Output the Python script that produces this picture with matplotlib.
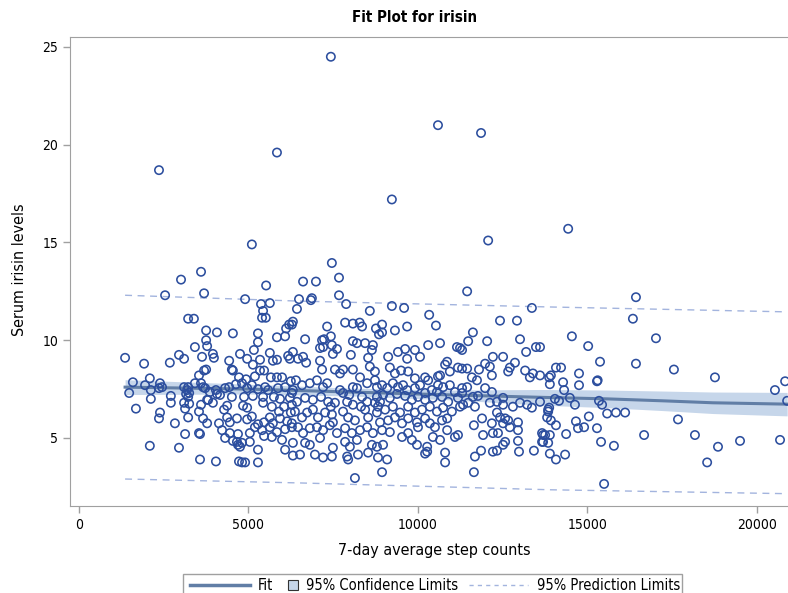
import numpy as np
import matplotlib.pyplot as plt
from matplotlib.lines import Line2D
from matplotlib.patches import Rectangle

plt.rcParams['font.family'] = ['DejaVu Sans']
plt.rcParams['font.stretch'] = 'condensed'

# (steps, irisin), grouped by region
high_pts = np.array([
    (2360, 18.7), (5840, 19.6), (9230, 17.2), (5100, 14.9), (3010, 13.1),
    (3600, 13.5), (2540, 12.3), (3690, 12.4), (4900, 12.1), (5520, 12.8),
    (5370, 11.85), (5630, 11.9), (6490, 12.1), (6840, 12.05), (6870, 12.15),
    (6610, 13.0), (6990, 13.0), (7460, 13.95), (7670, 13.2), (7670, 12.3),
    (7880, 11.85), (9230, 11.75), (9590, 11.65), (6430, 11.6), (8580, 11.5),
    (11860, 20.6), (14430, 15.7), (12070, 15.1), (11450, 12.5), (16430, 12.2),
    (13360, 11.65), (10590, 21.0), (7430, 24.5),
])

right_pts = np.array([
    (16340, 11.1), (14540, 10.2), (15020, 9.7), (17020, 10.1), (15370, 8.9),
    (16430, 8.8), (17550, 8.5), (18760, 8.1), (20830, 7.9), (20530, 7.45),
    (20890, 6.9), (13600, 9.65), (14070, 8.6), (14220, 8.6), (13920, 8.2),
    (14750, 8.3), (14280, 7.85), (13890, 7.75), (14750, 7.7), (15280, 7.9),
    (15300, 7.95), (14310, 7.45), (14040, 7.0), (14160, 6.9), (14480, 7.05),
    (15340, 6.9), (14630, 6.7), (15430, 6.7), (13870, 6.55), (13840, 6.35),
    (15580, 6.25), (15840, 6.3), (16110, 6.3), (15040, 6.1), (13920, 5.9),
    (14660, 5.85), (14070, 5.65), (14720, 5.5), (14900, 5.55), (15280, 5.5),
    (17670, 5.95), (14370, 5.2), (13690, 5.15), (13890, 5.15), (16670, 5.15),
    (18170, 5.15), (13690, 4.8), (15400, 4.8), (15780, 4.6), (19500, 4.85),
    (20680, 4.9), (18850, 4.55), (13890, 4.2), (14340, 4.15), (14070, 3.9),
    (18530, 3.75), (15490, 2.65),
])

left_pts = np.array([
    (3220, 11.1), (3390, 11.1), (3750, 10.5), (3750, 10.0), (3780, 9.7),
    (3420, 9.65), (1360, 9.1), (1920, 8.8), (2680, 8.85), (2950, 9.25),
    (3100, 9.05), (3630, 9.15), (3540, 8.2), (3690, 8.45), (3750, 8.5),
    (1590, 7.85), (2090, 8.05), (1950, 7.7), (2390, 7.8), (2450, 7.6),
    (1480, 7.3), (2120, 7.45), (2360, 7.55), (3100, 7.6), (3190, 7.45),
    (3220, 7.6), (3160, 7.25), (3250, 7.3), (3420, 7.8), (3600, 7.8),
    (3660, 7.6), (2120, 7.0), (2710, 7.15), (2710, 6.8), (3100, 6.8),
    (3250, 6.75), (3130, 6.5), (3600, 6.7), (3780, 6.95), (1680, 6.5),
    (2390, 6.3), (2360, 6.0), (3220, 6.05), (3540, 6.35), (3660, 6.0),
    (2830, 5.75), (3780, 5.75), (3130, 5.2), (3540, 5.25), (3570, 5.2),
    (2090, 4.6), (2950, 4.5), (3570, 3.9), (3220, 7.1), (3950, 6.8),
    (4040, 7.45),
])

midleft_pts = np.array([
    (5430, 11.5), (5400, 11.15), (5510, 11.15), (4070, 10.4), (4540, 10.35),
    (5280, 10.35), (5280, 9.9), (5160, 9.5), (3950, 9.3), (3980, 9.1),
    (5840, 10.15), (6110, 10.6), (6080, 10.2), (6200, 10.8), (6310, 10.95),
    (4430, 8.95), (4750, 9.3), (4960, 9.05), (5130, 8.75), (5340, 9.0),
    (5630, 9.35), (5720, 8.95), (5840, 9.0), (6170, 9.2), (6220, 9.05),
    (4540, 8.45), (4720, 8.1), (4930, 8.0), (5190, 8.15), (5340, 8.45),
    (5460, 8.45), (5660, 8.1), (5840, 8.1), (5990, 8.1), (6250, 7.9),
    (3720, 7.55), (3860, 7.35), (4070, 7.25), (4310, 7.55), (4430, 7.6),
    (4630, 7.75), (4810, 7.8), (4960, 7.55), (5100, 7.7), (5280, 7.5),
    (5490, 7.6), (5580, 7.45), (5870, 7.55), (6080, 7.6), (6310, 7.45),
    (3810, 6.95), (4160, 7.2), (4510, 7.1), (4870, 7.1), (5130, 7.15),
    (5430, 7.1), (5750, 7.1), (5930, 7.0), (6220, 7.05), (4510, 8.5),
    (4370, 6.65), (4280, 6.45), (4840, 6.65), (4960, 6.55), (5430, 6.8),
    (5690, 6.6), (5900, 6.35), (6050, 6.6), (6280, 6.7), (4750, 4.55),
    (4370, 6.05), (4130, 5.75), (4450, 5.8), (4660, 6.0), (4960, 5.95),
    (5100, 6.1), (5280, 5.7), (5460, 5.8), (5630, 6.05), (5720, 5.75),
    (5930, 6.0), (6140, 5.85), (6250, 6.3), (4540, 4.85),
    (4220, 5.4), (4450, 5.25), (4690, 5.2), (5040, 5.25), (5190, 5.55),
    (5400, 5.4), (5630, 5.55), (5840, 5.3), (6080, 5.45), (6280, 5.55),
    (4310, 5.0), (4660, 4.8), (4690, 4.65), (4810, 4.75), (5040, 4.8),
    (5280, 4.4), (5460, 5.1), (5690, 5.05), (5990, 4.9), (6080, 4.4),
    (6310, 4.75), (4040, 3.8), (4720, 3.8), (4810, 3.75), (4900, 3.75),
    (5280, 3.75),
])

mid_pts = np.array([
    (6280, 10.8), (7320, 10.7), (7430, 10.2), (7170, 10.0), (7230, 10.05),
    (7850, 10.9), (8080, 10.85), (8280, 10.9), (8350, 10.7), (8760, 10.6),
    (6670, 10.05), (7110, 9.6), (7200, 9.65), (7460, 9.75), (7610, 9.55),
    (7490, 9.3), (8080, 9.95), (8200, 9.85), (8440, 9.85), (8670, 9.75),
    (8640, 9.5), (8020, 9.25), (6310, 9.4), (6460, 9.05), (6610, 9.15),
    (6700, 8.85), (7110, 8.95), (7170, 8.5), (7550, 8.5), (7700, 8.3),
    (7790, 8.5), (8080, 8.5), (8290, 8.1), (8530, 9.1), (8580, 8.65),
    (8730, 8.4), (6400, 7.95), (6580, 7.7), (6280, 7.3), (6810, 7.8),
    (7020, 7.95), (7200, 7.6), (7320, 7.8), (7700, 7.45), (7790, 7.3),
    (7970, 7.2), (8080, 7.6), (8200, 7.55), (8350, 7.1), (8500, 7.8),
    (8790, 7.6), (6430, 6.85), (6670, 7.05), (6900, 6.95), (7140, 7.1),
    (7350, 6.85), (7430, 6.6), (7550, 6.8), (7910, 6.85), (8080, 6.7),
    (8320, 6.6), (8500, 6.85), (8730, 6.8), (8880, 6.85), (6370, 6.35),
    (6580, 6.05), (6730, 6.3), (6900, 6.45), (7050, 6.05), (7260, 6.3),
    (7460, 6.2), (7490, 5.8), (7790, 6.35), (7940, 6.05), (8140, 5.9),
    (8440, 6.45), (8530, 6.05), (8790, 6.3), (6280, 5.75), (6460, 5.55),
    (6610, 5.25), (6810, 5.5), (7020, 5.55), (7200, 5.4), (7400, 5.65),
    (7610, 5.25), (7850, 5.5), (8050, 5.25), (8290, 5.4), (8500, 5.55),
    (8670, 5.25), (6670, 4.75), (6810, 4.65), (7110, 5.0), (7490, 4.5),
    (7850, 4.8), (7990, 4.55), (8200, 4.9), (8640, 4.65), (6310, 4.1),
    (6520, 4.15), (6960, 4.15), (7200, 4.0), (7460, 4.05), (7910, 4.05),
    (7940, 3.9), (8230, 4.15), (8530, 4.25), (8140, 2.95),
])

midright_pts = np.array([
    (10330, 11.3), (10530, 10.75), (9680, 10.7), (9320, 10.5), (8940, 10.8),
    (8940, 10.4), (8850, 10.3), (10300, 9.75), (10650, 9.85), (11150, 9.65),
    (11240, 9.6), (9120, 9.15), (9410, 9.4), (9620, 9.55), (9680, 9.05),
    (9910, 9.5), (10060, 9.15), (10800, 8.75), (10860, 8.9), (11180, 8.6),
    (11300, 8.55), (10940, 8.4), (10650, 8.2), (9170, 8.6), (9320, 8.3),
    (9500, 8.45), (9710, 8.4), (9910, 8.05), (10210, 8.1), (10300, 7.95),
    (10590, 8.15), (10590, 7.7), (8730, 7.95), (8940, 7.7), (9090, 7.55),
    (9260, 7.8), (9410, 7.6), (9560, 7.7), (9680, 7.45), (9910, 7.55),
    (10060, 7.7), (10210, 7.3), (10410, 7.45), (10560, 7.35), (10740, 7.6),
    (10940, 7.7), (11090, 7.35), (11300, 7.55), (8790, 7.1), (8970, 7.2),
    (9170, 7.05), (9380, 7.25), (9620, 7.15), (9820, 6.95), (10000, 7.1),
    (10210, 6.95), (10440, 7.05), (10710, 7.1), (10890, 6.85), (11180, 7.05),
    (8820, 6.6), (9030, 6.45), (9260, 6.6), (9470, 6.3), (9710, 6.6),
    (9910, 6.3), (10120, 6.45), (10350, 6.6), (10560, 6.35), (10740, 6.55),
    (11000, 6.35), (11240, 6.6), (8880, 5.8), (9120, 5.9), (9320, 6.05),
    (9530, 5.75), (9710, 6.0), (9970, 5.8), (10000, 5.55), (10210, 6.0),
    (10350, 5.75), (10500, 5.55), (10710, 5.9), (10860, 6.0), (8940, 5.4),
    (9170, 5.3), (9530, 5.05), (9710, 5.25), (9820, 4.9), (9970, 4.65),
    (10270, 4.55), (10440, 5.05), (10650, 4.9), (10860, 5.4), (11090, 5.05),
    (11180, 5.15), (8790, 4.55), (8970, 4.65), (9090, 3.9), (8820, 4.0),
    (8940, 3.25), (10270, 4.3), (10210, 4.2), (10800, 4.25), (10800, 3.75),
])

upper_right_pts = np.array([
    (12420, 11.0), (12920, 11.0), (11620, 10.4), (11480, 9.95), (12040, 9.95),
    (13010, 10.05), (13480, 9.65), (13190, 9.4), (12210, 9.15), (12510, 9.15),
    (12860, 8.85), (12710, 8.6), (12660, 8.4), (11300, 9.5), (11450, 8.55),
    (11800, 8.5), (11980, 8.8), (12120, 8.65), (12180, 8.2), (13160, 8.45),
    (13300, 8.1), (13390, 8.3), (13600, 8.2), (13870, 8.1), (11590, 8.1),
    (11740, 7.95), (11450, 7.6), (11980, 7.55), (12180, 7.35), (11300, 7.3),
    (11620, 7.1), (11770, 7.15), (12510, 7.05), (11330, 6.7), (11480, 6.8),
    (11680, 6.6), (12120, 6.8), (12330, 6.85), (12510, 6.7), (12800, 6.6),
    (13010, 6.8), (13220, 6.7), (13360, 6.55), (13600, 6.85), (13840, 6.45),
    (11890, 6.0), (12180, 5.75), (12330, 6.3), (12420, 6.05), (12570, 6.0),
    (12660, 5.9), (12950, 5.8), (13810, 6.05), (11650, 5.65), (11920, 5.15),
    (12210, 5.25), (12360, 5.25), (12510, 5.75), (12710, 5.55), (12950, 5.4),
    (13660, 5.25), (13750, 5.15), (13840, 4.75), (12510, 4.65), (12570, 4.8),
    (12950, 4.85), (13660, 4.8), (11680, 4.05), (11860, 4.35), (12210, 4.3),
    (12330, 4.35), (12980, 4.3), (13420, 4.35), (11650, 3.25),
])

# regression fit, 95% confidence band and 95% prediction limits
fit_x = [1360, 5000, 8000, 11000, 13600, 15580, 17230, 18700, 20890]
fit_y = [7.6, 7.5, 7.35, 7.2, 7.08, 7.0, 6.9, 6.8, 6.73]
clm_lower = [7.22, 7.25, 7.15, 6.95, 6.68, 6.55, 6.4, 6.25, 6.13]
clm_upper = [7.98, 7.75, 7.55, 7.45, 7.48, 7.45, 7.4, 7.35, 7.33]
pred_x = [1360, 6500, 13900, 20890]
pred_upper = [12.3, 12.0, 11.7, 11.45]
pred_lower = [2.9, 2.7, 2.35, 2.15]

x_ticks = [0, 5000, 10000, 15000, 20000]
y_ticks = [5, 10, 15, 20, 25]
legend_labels = ['Fit', '95% Confidence Limits', '95% Prediction Limits']

pts = np.vstack([high_pts, right_pts, left_pts, midleft_pts, mid_pts,
                 midright_pts, upper_right_pts])

marker_col = '#2C4E9E'
fit_col = '#617EA6'
band_col = '#C6D6EA'
pred_col = '#A3B4DE'
axis_col = '#A0A0A0'

W, H = 788, 593
fig = plt.figure(figsize=(W / 100, H / 100), dpi=100)
ax = fig.add_axes([70/W, 1 - 506/H, 1 - 70/W, (506 - 37)/H])

ax.fill_between(fit_x, clm_lower, clm_upper, color=band_col, lw=0, zorder=1)
ax.plot(fit_x, fit_y, color=fit_col, lw=2.2, zorder=2)
ax.plot(pred_x, pred_upper, color=pred_col, lw=1, dashes=(5, 4), zorder=2)
ax.plot(pred_x, pred_lower, color=pred_col, lw=1, dashes=(5, 4), zorder=2)
ax.scatter(pts[:, 0], pts[:, 1], s=36, facecolors='none', edgecolors=marker_col,
           linewidths=1.15, zorder=3)

ax.set_xlim(-265, 20915)
ax.set_ylim(1.52, 25.51)
ax.set_xticks(x_ticks)
ax.set_yticks(y_ticks)
ax.tick_params(colors=axis_col, labelcolor='black', labelsize=10, length=5, width=1)
for s in ['left', 'top', 'bottom']:
    ax.spines[s].set_color(axis_col)
ax.spines['right'].set_visible(False)

fig.text(415/W, 1 - 18/H, 'Fit Plot for irisin', ha='center', va='center',
         fontsize=10.8, fontweight='bold')
fig.text(434/W, 1 - 551/H, '7-day average step counts', ha='center',
         va='center', fontsize=11.5)
fig.text(20/W, 1 - 270/H, 'Serum irisin levels', ha='center', va='center',
         rotation=90, fontsize=11.5)

# legend box laid out like the SAS one, in figure pixels
def fx(px):
    return px / W

def fy(py):
    return 1 - py / H

ly = 585
fig.patches.append(Rectangle((fx(183), fy(597)), (682 - 183) / W, 23 / H,
                             transform=fig.transFigure, facecolor='white',
                             edgecolor=axis_col, lw=1))
fig.lines.append(Line2D([fx(190), fx(250)], [fy(ly), fy(ly)], color=fit_col,
                        lw=2.5, transform=fig.transFigure))
fig.text(fx(258), fy(ly), legend_labels[0], ha='left', va='center', fontsize=10.5)
fig.patches.append(Rectangle((fx(288), fy(ly + 5)), 10 / W, 10 / H,
                             transform=fig.transFigure, facecolor=band_col,
                             edgecolor='#333333', lw=0.8))
fig.text(fx(306), fy(ly), legend_labels[1], ha='left', va='center', fontsize=10.5)
fig.lines.append(Line2D([fx(469), fx(528)], [fy(ly), fy(ly)], color=pred_col,
                        lw=1, dashes=(3, 3), transform=fig.transFigure))
fig.text(fx(537), fy(ly), legend_labels[2], ha='left', va='center', fontsize=10.5)

fig.savefig('out.png', dpi=100)
